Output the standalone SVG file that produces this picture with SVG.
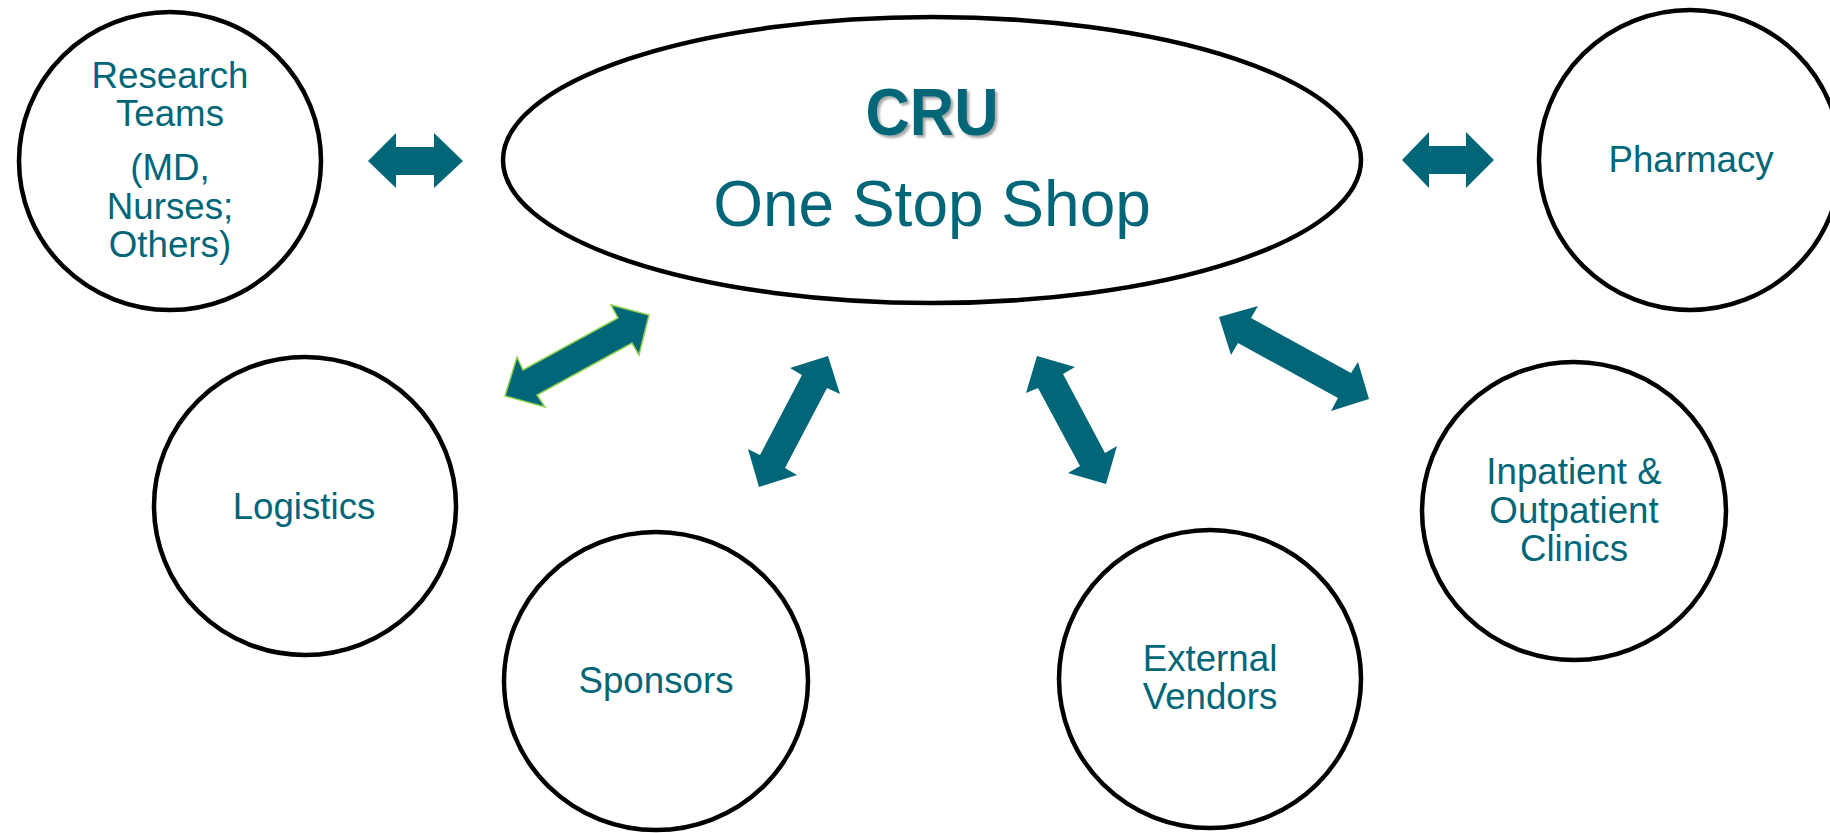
<svg xmlns="http://www.w3.org/2000/svg" width="1830" height="833" viewBox="0 0 1830 833">
<defs>
<style>
.node{fill:#FFFFFF;stroke:#000000;stroke-width:4.5}
.lbl{font-family:"Liberation Sans",Arial,sans-serif;font-size:36.7px;fill:#006678;text-anchor:middle}
.arr{fill:#006678}
.arr-g{fill:#006678;stroke:#92D050;stroke-width:1.5;stroke-linejoin:miter}
</style>
<filter id="shadow" x="-10%" y="-10%" width="130%" height="130%">
<feDropShadow dx="2.5" dy="2.5" stdDeviation="1.2" flood-color="#000000" flood-opacity="0.35"/>
</filter>
</defs>
<rect width="1830" height="833" fill="#FFFFFF"/>
<g id="connectors">
<polygon class="arr" points="368,161 396,133 396,147 434,147 434,133 463,161 434,188 434,175 396,175 396,188"/>
<polygon class="arr" points="1402,160 1429,132 1429,146 1466,146 1466,132 1494,160 1466,188 1466,174 1429,174 1429,188"/>
<polygon class="arr-g" points="505,396 517,357 523,370 618,318 611,305 649,315 639,355 632,343 537,395 545,407"/>
<polygon class="arr" points="828,356 840,394 827,388 785,468 797,475 759,487 748,449 760,455 802,375 790,368"/>
<polygon class="arr" points="1037,356 1075,367 1063,374 1105,453 1117,446 1106,484 1068,473 1080,466 1038,388 1026,393"/>
<polygon class="arr" points="1219,317 1258,306 1251,318 1351,373 1358,362 1369,399 1331,411 1338,398 1238,343 1231,355"/>
</g>
<g id="node-cru">
<ellipse class="node" cx="932" cy="160" rx="429" ry="143"/>
<text x="932" y="135" font-family="'Liberation Sans',Arial,sans-serif" font-size="66" font-weight="bold" fill="#006678" text-anchor="middle" textLength="133" lengthAdjust="spacingAndGlyphs" filter="url(#shadow)">CRU</text>
<text x="932" y="226" font-family="'Liberation Sans',Arial,sans-serif" font-size="64" fill="#006678" text-anchor="middle">One Stop Shop</text>
</g>
<g id="node-research">
<ellipse class="node" cx="170" cy="161" rx="151" ry="149"/>
<text class="lbl" x="170" y="88">Research</text>
<text class="lbl" x="170" y="126">Teams</text>
<text class="lbl" x="170" y="180">(MD,</text>
<text class="lbl" x="170" y="219">Nurses;</text>
<text class="lbl" x="170" y="257">Others)</text>
</g>
<g id="node-pharmacy">
<ellipse class="node" cx="1690" cy="160" rx="151" ry="150"/>
<text class="lbl" x="1691" y="172">Pharmacy</text>
</g>
<g id="node-logistics">
<ellipse class="node" cx="305" cy="506" rx="151" ry="149"/>
<text class="lbl" x="304" y="519">Logistics</text>
</g>
<g id="node-sponsors">
<ellipse class="node" cx="656" cy="681" rx="152" ry="149"/>
<text class="lbl" x="656" y="693">Sponsors</text>
</g>
<g id="node-vendors">
<ellipse class="node" cx="1210" cy="679" rx="151" ry="149"/>
<text class="lbl" x="1210" y="671">External</text>
<text class="lbl" x="1210" y="709">Vendors</text>
</g>
<g id="node-clinics">
<ellipse class="node" cx="1574" cy="511" rx="152" ry="149"/>
<text class="lbl" x="1574" y="484">Inpatient &amp;</text>
<text class="lbl" x="1574" y="523">Outpatient</text>
<text class="lbl" x="1574" y="561">Clinics</text>
</g>
</svg>
